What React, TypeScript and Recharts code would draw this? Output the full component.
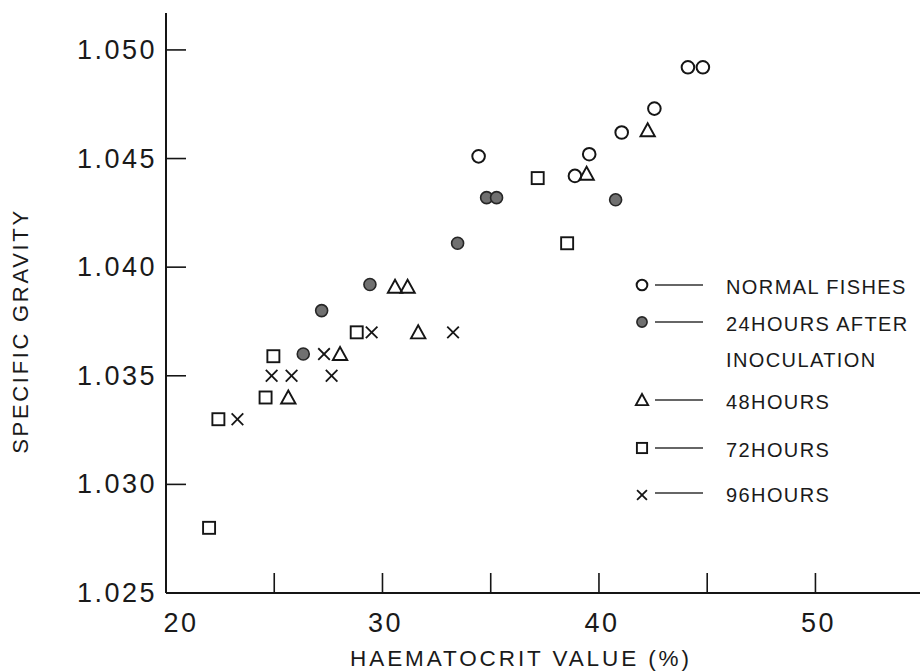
import React from "react";
import { ScatterChart, Scatter, XAxis, YAxis, Label } from "recharts";

// ---- data ----
const normalX = [34.44, 38.89, 39.55, 41.05, 42.56, 44.11, 44.8];
const normalY = [1.0451, 1.0442, 1.0452, 1.0462, 1.0473, 1.0492, 1.0492];

const h24X = [26.34, 27.19, 29.42, 33.47, 34.81, 35.27, 40.77];
const h24Y = [1.036, 1.038, 1.0392, 1.0411, 1.0432, 1.0432, 1.0431];

const h48X = [25.65, 28.04, 30.58, 31.16, 31.65, 39.43, 42.25];
const h48Y = [1.034, 1.036, 1.0391, 1.0391, 1.037, 1.0443, 1.0463];

const h72X = [21.99, 22.42, 24.6, 24.96, 28.81, 37.17, 38.53];
const h72Y = [1.028, 1.033, 1.034, 1.0359, 1.037, 1.0441, 1.0411];

const h96X = [23.3, 24.88, 25.8, 27.3, 27.65, 29.5, 33.26];
const h96Y = [1.033, 1.035, 1.035, 1.036, 1.035, 1.037, 1.037];

const xTicks = [20, 25, 30, 35, 40, 45, 50];
const xLabelled = [20, 30, 40, 50];
const yTicks = [1.025, 1.03, 1.035, 1.04, 1.045, 1.05];

const seriesNames = [
  "NORMAL FISHES",
  "24HOURS AFTER INOCULATION",
  "48HOURS",
  "72HOURS",
  "96HOURS",
];

const zip = (xs: number[], ys: number[]) => xs.map((x, i) => ({ x, y: ys[i] }));

const INK = "#151515";
const FONT = "'Liberation Sans', Arial, sans-serif";

// ---- marker shapes ----
type Kind = "circle" | "filled" | "triangle" | "square" | "cross";

const Marker = ({ kind, cx, cy, s = 1 }: { kind: Kind; cx: number; cy: number; s?: number }) => {
  if (kind === "circle")
    return <circle cx={cx} cy={cy} r={6.3 * s} fill="#fff" stroke={INK} strokeWidth={2} />;
  if (kind === "filled")
    return <circle cx={cx} cy={cy} r={6 * s} fill="#707070" stroke="#262626" strokeWidth={1.6} />;
  if (kind === "triangle") {
    const w = 7.2 * s, t = 7 * s, b = 6 * s;
    return (
      <polygon
        points={`${cx},${cy - t} ${cx - w},${cy + b} ${cx + w},${cy + b}`}
        fill="none"
        stroke={INK}
        strokeWidth={1.9}
      />
    );
  }
  if (kind === "square") {
    const h = 6 * s;
    return <rect x={cx - h} y={cy - h} width={2 * h} height={2 * h} fill="none" stroke={INK} strokeWidth={1.9} />;
  }
  const d = 5.8 * s;
  return (
    <g stroke={INK} strokeWidth={1.8}>
      <line x1={cx - d} y1={cy - d} x2={cx + d} y2={cy + d} />
      <line x1={cx + d} y1={cy - d} x2={cx - d} y2={cy + d} />
    </g>
  );
};

const shapeFor = (kind: Kind) => (props: any) => <Marker kind={kind} cx={props.cx} cy={props.cy} />;

const kinds: Kind[] = ["circle", "filled", "triangle", "square", "cross"];

// ---- ticks ----
const YTick = (props: any) => {
  const { x, y, payload } = props;
  return (
    <g>
      <line x1={x} y1={y} x2={x + 20} y2={y} stroke={INK} strokeWidth={1.6} />
      <text
        x={x - 9}
        y={y}
        textAnchor="end"
        dominantBaseline="central"
        fontFamily={FONT}
        fontSize={27}
        letterSpacing={2.5}
        fill="#1a1a1a"
      >
        {payload.value.toFixed(3)}
      </text>
    </g>
  );
};

const XTick = (props: any) => {
  const { x, y, payload } = props;
  const v = payload.value;
  const showLabel = xLabelled.includes(v);
  return (
    <g>
      {v !== xTicks[0] && <line x1={x} y1={y} x2={x} y2={y - 20} stroke={INK} strokeWidth={1.6} />}
      {showLabel && (
        <text
          x={x + (v === xTicks[0] ? 15 : 3)}
          y={y + 30}
          textAnchor="middle"
          dominantBaseline="central"
          fontFamily={FONT}
          fontSize={27}
          letterSpacing={2.5}
          fill="#1a1a1a"
        >
          {v}
        </text>
      )}
    </g>
  );
};

// ---- legend (drawn beside the chart, positioned over its right side) ----
const LegendBox = () => {
  const rows = [
    { kind: "circle" as Kind, y: 17, lines: [seriesNames[0]] },
    { kind: "filled" as Kind, y: 54, lines: ["24HOURS AFTER", "INOCULATION"] },
    { kind: "triangle" as Kind, y: 132, lines: [seriesNames[2]] },
    { kind: "square" as Kind, y: 180, lines: [seriesNames[3]] },
    { kind: "cross" as Kind, y: 225, lines: [seriesNames[4]] },
  ];
  return (
    <svg
      width={288}
      height={245}
      style={{ position: "absolute", left: 632, top: 268, display: "block", overflow: "visible" }}
    >
      {rows.map((r, i) => (
        <g key={i}>
          <Marker kind={r.kind} cx={10} cy={r.y + (r.kind === "cross" ? 2 : 0)} s={0.85} />
          <line x1={23} y1={r.y} x2={71} y2={r.y} stroke="#333" strokeWidth={1.3} />
          {r.lines.map((t, j) => (
            <text
              key={j}
              x={94}
              y={r.y + 2 + j * 36}
              dominantBaseline="central"
              fontFamily={FONT}
              fontSize={20}
              letterSpacing={1.4}
              fill="#1a1a1a"
            >
              {t}
            </text>
          ))}
        </g>
      ))}
    </svg>
  );
};

export default function App() {
  const allData = [
    zip(normalX, normalY),
    zip(h24X, h24Y),
    zip(h48X, h48Y),
    zip(h72X, h72Y),
    zip(h96X, h96Y),
  ];
  return (
    <div style={{ position: "absolute", left: 0, top: 0, width: 920, height: 672, background: "#fff" }}>
      <ScatterChart width={920} height={672} margin={{ top: 13, right: 0, bottom: 0, left: 0 }}>
        <XAxis
          type="number"
          dataKey="x"
          domain={[20, 54.83]}
          ticks={xTicks}
          allowDataOverflow
          height={79}
          tickSize={0}
          tickMargin={0}
          tickLine={false}
          tick={<XTick />}
          axisLine={{ stroke: INK, strokeWidth: 2 }}
          interval={0}
        >
          <Label
            content={(p: any) => {
              const vb = p.viewBox;
              return (
                <text
                  x={521}
                  y={vb.y + 65}
                  textAnchor="middle"
                  dominantBaseline="central"
                  fontFamily={FONT}
                  fontSize={22.5}
                  letterSpacing={2.9}
                  fill="#1a1a1a"
                >
                  HAEMATOCRIT VALUE (%)
                </text>
              );
            }}
          />
        </XAxis>
        <YAxis
          type="number"
          dataKey="y"
          domain={[1.025, 1.0517]}
          ticks={yTicks}
          allowDataOverflow
          width={166}
          tickSize={0}
          tickMargin={0}
          tickLine={false}
          tick={<YTick />}
          axisLine={{ stroke: INK, strokeWidth: 2 }}
          interval={0}
        >
          <Label
            content={(p: any) => {
              const vb = p.viewBox;
              const cy = vb.y + vb.height / 2 + 28;
              return (
                <text
                  x={20}
                  y={cy}
                  transform={`rotate(-90 20 ${cy})`}
                  textAnchor="middle"
                  dominantBaseline="central"
                  fontFamily={FONT}
                  fontSize={22}
                  letterSpacing={2.7}
                  fill="#1a1a1a"
                >
                  SPECIFIC GRAVITY
                </text>
              );
            }}
          />
        </YAxis>
        {allData.map((d, i) => (
          <Scatter
            key={i}
            name={seriesNames[i]}
            data={d}
            shape={shapeFor(kinds[i])}
            isAnimationActive={false}
          />
        ))}
      </ScatterChart>
      <LegendBox />
    </div>
  );
}
